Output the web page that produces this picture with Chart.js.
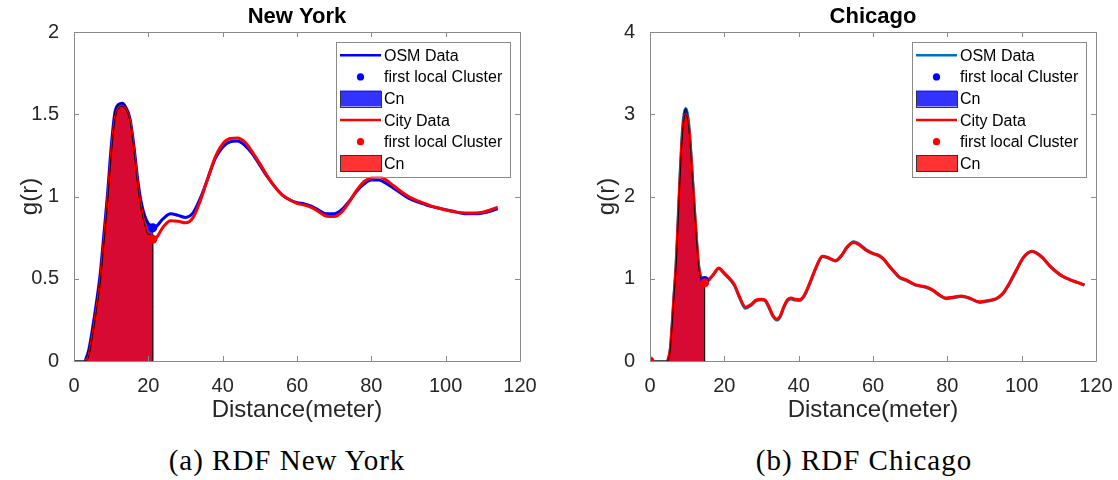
<!DOCTYPE html>
<html>
<head>
<meta charset="utf-8">
<title>RDF New York / Chicago</title>
<script src="https://cdn.jsdelivr.net/npm/chart.js@4.4.1/dist/chart.umd.min.js"></script>
<style>
  html, body { margin: 0; padding: 0; background: #fff; }
  #wrap { position: relative; width: 1118px; height: 480px; overflow: hidden; background: #fff; }
  #wrap canvas { position: absolute; top: 0; }
  #cNY { left: 0; }
  #cCH { left: 559px; }
  .cap {
    position: absolute; top: 443px; height: 34px; line-height: 34px;
    font-family: 'Liberation Serif', 'Times New Roman', serif; font-size: 29px;
    letter-spacing: 1px; color: #000; white-space: nowrap; transform: translateX(-50%);
  }
</style>
</head>
<body>
<div id="wrap">
  <canvas id="cNY" width="559" height="430"></canvas>
  <canvas id="cCH" width="559" height="430"></canvas>
  <div class="cap" style="left:287px">(a) RDF New York</div>
  <div class="cap" style="left:864px">(b) RDF Chicago</div>
</div>
<script>
// ---------- New York: radial distribution g(r) ----------
const nyR = [3, 4, 5, 6, 7, 8, 9, 10, 11, 12, 13, 14, 15, 16, 17, 18, 19, 20, 21.2, 22,
  24, 26, 28, 30, 32, 34, 36, 38, 40, 42, 44, 46, 48, 50, 52, 54, 56, 58, 60, 62,
  64, 66, 68, 70, 72, 74, 76, 78, 80, 82, 84, 86, 88, 90, 92, 94, 96, 98, 100, 102,
  104, 106, 108, 110, 112, 114];
const nyOsmG = [0, 0.07, 0.2, 0.35, 0.52, 0.76, 1.01, 1.3, 1.51, 1.56, 1.567, 1.54, 1.48, 1.33, 1.13, 0.975, 0.885, 0.835, 0.81, 0.815,
  0.865, 0.895, 0.885, 0.873, 0.9, 0.99, 1.11, 1.23, 1.3, 1.333, 1.337, 1.31, 1.26, 1.19, 1.12, 1.06, 1.01, 0.98, 0.963, 0.955,
  0.94, 0.915, 0.895, 0.895, 0.92, 0.97, 1.03, 1.075, 1.1, 1.1, 1.08, 1.05, 1.02, 0.99, 0.97, 0.955, 0.94, 0.93, 0.92, 0.91,
  0.9, 0.895, 0.895, 0.9, 0.91, 0.925];
const nyCityG = [0, 0.03, 0.15, 0.3, 0.46, 0.7, 0.95, 1.24, 1.46, 1.535, 1.547, 1.525, 1.46, 1.3, 1.09, 0.93, 0.83, 0.77, 0.74, 0.745,
  0.815, 0.853, 0.85, 0.84, 0.87, 0.975, 1.11, 1.24, 1.32, 1.352, 1.355, 1.33, 1.27, 1.2, 1.125, 1.06, 1.01, 0.98, 0.958, 0.948,
  0.932, 0.905, 0.88, 0.878, 0.905, 0.965, 1.035, 1.09, 1.115, 1.12, 1.1, 1.065, 1.03, 1, 0.978, 0.96, 0.943, 0.93, 0.918, 0.908,
  0.902, 0.9, 0.9, 0.905, 0.918, 0.935];
const nyCnEdge = 21.2;
const nyOsmClusterR = [21.2];
const nyOsmClusterG = [0.81];
const nyCityClusterR = [21.2];
const nyCityClusterG = [0.74];
const nyYTicks = [0, 0.5, 1, 1.5, 2];
const nyYTickLabels = ['0', '0.5', '1', '1.5', '2'];

// ---------- Chicago: radial distribution g(r) ----------
const chR = [4.8, 5.5, 6, 6.5, 7, 7.5, 8, 8.5, 9, 9.6, 10, 10.5, 11, 11.5, 12, 12.5, 13, 13.5, 14, 14.7,
  15.5, 16, 17, 18.5, 20, 21.5, 22.8, 24, 25.7, 27, 28.5, 30, 31, 32, 33, 34.1, 35, 36, 37, 38,
  39, 40.2, 41.5, 43, 44.5, 46.4, 48, 49.9, 51.5, 53, 54.8, 56, 58, 60, 61.8, 63, 64.4, 66, 67.1, 68.9,
  70, 71.6, 74.3, 76, 78, 79.7, 81.5, 83.8, 86, 88.7, 91, 93.2, 94.9, 96.5, 98.5, 100.5, 102.8, 104, 105.7, 107.5,
  109.3, 111, 112.9, 115, 116.9];
const chOsmG = [0, 0.16, 0.47, 0.83, 1.16, 1.65, 2.18, 2.64, 2.95, 3.07, 3.02, 2.85, 2.54, 2.18, 1.82, 1.49, 1.2, 1.05, 1.0, 0.98,
  0.985, 1.0, 1.045, 1.125, 1.06, 0.99, 0.91, 0.78, 0.64, 0.67, 0.73, 0.745, 0.73, 0.65, 0.55, 0.497, 0.535, 0.65, 0.735, 0.755,
  0.74, 0.735, 0.79, 0.94, 1.115, 1.27, 1.25, 1.215, 1.28, 1.385, 1.45, 1.43, 1.36, 1.31, 1.28, 1.235, 1.155, 1.07, 1.015, 0.98,
  0.955, 0.92, 0.895, 0.86, 0.795, 0.758, 0.77, 0.785, 0.76, 0.712, 0.728, 0.755, 0.815, 0.925, 1.095, 1.26, 1.335, 1.315, 1.255, 1.16,
  1.085, 1.03, 0.99, 0.955, 0.92];
const chCityG = [0, 0.15, 0.45, 0.8, 1.12, 1.6, 2.12, 2.58, 2.88, 3.0, 2.96, 2.8, 2.5, 2.15, 1.8, 1.47, 1.18, 1.03, 0.97, 0.95,
  0.97, 0.99, 1.05, 1.13, 1.07, 1.0, 0.92, 0.79, 0.655, 0.68, 0.74, 0.752, 0.74, 0.66, 0.56, 0.51, 0.545, 0.66, 0.745, 0.765,
  0.75, 0.745, 0.8, 0.95, 1.12, 1.275, 1.255, 1.22, 1.28, 1.38, 1.44, 1.42, 1.35, 1.305, 1.275, 1.23, 1.15, 1.07, 1.02, 0.985,
  0.96, 0.925, 0.9, 0.865, 0.8, 0.765, 0.775, 0.79, 0.765, 0.72, 0.735, 0.76, 0.82, 0.93, 1.1, 1.26, 1.33, 1.31, 1.25, 1.16,
  1.085, 1.03, 0.99, 0.955, 0.925];
const chCnEdge = 14.7;
const chOsmClusterR = [14.7];
const chOsmClusterG = [0.98];
const chCityClusterR = [0, 14.7];
const chCityClusterG = [0, 0.95];
const chYTicks = [0, 1, 2, 3, 4];
const chYTickLabels = ['0', '1', '2', '3', '4'];

// shared x axis ticks
const xTicks = [0, 20, 40, 60, 80, 100, 120];
const xTickLabels = ['0', '20', '40', '60', '80', '100', '120'];

// ---------- helpers ----------
const SANS = "'Liberation Sans', Arial, Helvetica, sans-serif";
const AXIS_GREY = '#262626';
const BOX_GREY = '#8a8a8a';

const toPoints = (rs, gs) => rs.map((r, i) => ({ x: r, y: gs[i] }));
// closed Cn region: baseline from 0, the curve up to the cluster edge, then straight down
const cnRegion = (rs, gs, edge) => [{ x: 0, y: 0 },
  ...toPoints(rs, gs).filter(p => p.x <= edge),
  { x: edge + 1e-6, y: 0 }];

// axes box with inward ticks on all four sides (drawn above the data)
const axesBox = {
  id: 'axesBox',
  afterDraw(chart) {
    const { ctx, chartArea: a, scales: { x, y } } = chart;
    const L = 5;
    ctx.save();
    ctx.strokeStyle = BOX_GREY;
    ctx.lineWidth = 1;
    ctx.beginPath();
    ctx.rect(Math.round(a.left) + 0.5, Math.round(a.top) + 0.5,
      Math.round(a.right - a.left), Math.round(a.bottom - a.top));
    x.ticks.forEach(t => {
      const px = Math.round(x.getPixelForValue(t.value)) + 0.5;
      ctx.moveTo(px, a.bottom); ctx.lineTo(px, a.bottom - L);
      ctx.moveTo(px, a.top); ctx.lineTo(px, a.top + L);
    });
    y.ticks.forEach(t => {
      const py = Math.round(y.getPixelForValue(t.value)) + 0.5;
      ctx.moveTo(a.left, py); ctx.lineTo(a.left + L, py);
      ctx.moveTo(a.right, py); ctx.lineTo(a.right - L, py);
    });
    ctx.stroke();
    ctx.restore();
  }
};

// boxed legend inside the top-right corner of the plot
const insetLegend = {
  id: 'insetLegend',
  afterDraw(chart) {
    const { ctx, chartArea: a } = chart;
    const items = chart.data.datasets;
    const w = 174, rowH = 21.6, padV = 2.5, inset = 10;
    const h = items.length * rowH + padV * 2;
    const x0 = Math.round(a.right - inset - w), y0 = Math.round(a.top + inset);
    ctx.save();
    ctx.fillStyle = '#fff';
    ctx.fillRect(x0, y0, w, h);
    ctx.strokeStyle = BOX_GREY;
    ctx.lineWidth = 1;
    ctx.strokeRect(x0 + 0.5, y0 + 0.5, w, Math.round(h));
    const sx0 = x0 + 4, sx1 = x0 + 45;
    items.forEach((ds, i) => {
      const cy = y0 + padV + rowH * (i + 0.5);
      if (ds.legendKind === 'line') {
        ctx.strokeStyle = ds.borderColor;
        ctx.lineWidth = 2.5;
        ctx.beginPath(); ctx.moveTo(sx0, cy); ctx.lineTo(sx1, cy); ctx.stroke();
      } else if (ds.legendKind === 'dot') {
        ctx.fillStyle = ds.backgroundColor;
        ctx.beginPath(); ctx.arc((sx0 + sx1) / 2, cy, 3.6, 0, Math.PI * 2); ctx.fill();
      } else {
        ctx.fillStyle = ds.backgroundColor;
        ctx.fillRect(sx0, cy - 8, sx1 - sx0, 16);
        ctx.strokeStyle = '#333';
        ctx.lineWidth = 1;
        ctx.strokeRect(sx0 + 0.5, Math.round(cy - 8) + 0.5, sx1 - sx0, 16);
      }
      ctx.fillStyle = '#000';
      ctx.font = '16px ' + SANS;
      ctx.textAlign = 'left';
      ctx.textBaseline = 'middle';
      ctx.fillText(ds.label, x0 + 48, cy + 1);
    });
    ctx.restore();
  }
};

function buildChart(canvasId, s) {
  const datasets = [
    { label: 'OSM Data', legendKind: 'line', order: 6,
      data: toPoints(s.r, s.osm), showLine: true, borderColor: s.osmLine, borderWidth: 3,
      pointRadius: 0, fill: false, cubicInterpolationMode: 'monotone' },
    { label: 'first local Cluster', legendKind: 'dot', order: 2,
      data: toPoints(s.osmClR, s.osmClG), showLine: false, backgroundColor: '#0000ff',
      pointRadius: 4.5, pointBorderWidth: 0 },
    { label: 'Cn', legendKind: 'patch', order: 5,
      data: cnRegion(s.r, s.osm, s.edge), showLine: true, fill: 'origin',
      backgroundColor: 'rgba(0,0,255,0.8)', borderColor: 'rgba(0,0,0,0.9)', borderWidth: 1,
      pointRadius: 0, cubicInterpolationMode: 'monotone' },
    { label: 'City Data', legendKind: 'line', order: 4,
      data: toPoints(s.r, s.city), showLine: true, borderColor: '#ff0000', borderWidth: 3,
      pointRadius: 0, fill: false, cubicInterpolationMode: 'monotone' },
    { label: 'first local Cluster', legendKind: 'dot', order: 1,
      data: toPoints(s.cityClR, s.cityClG), showLine: false, backgroundColor: '#ff0000',
      pointRadius: 4.5, pointBorderWidth: 0 },
    { label: 'Cn', legendKind: 'patch', order: 3,
      data: cnRegion(s.r, s.city, s.edge), showLine: true, fill: 'origin',
      backgroundColor: 'rgba(255,0,0,0.8)', borderColor: 'rgba(0,0,0,0.9)', borderWidth: 1,
      pointRadius: 0, cubicInterpolationMode: 'monotone' }
  ];

  return new Chart(document.getElementById(canvasId), {
    type: 'scatter',
    data: { datasets },
    plugins: [axesBox, insetLegend],
    options: {
      responsive: false,
      animation: false,
      events: [],
      layout: { padding: { left: 0, right: s.padRight, top: 0, bottom: 0 } },
      plugins: {
        legend: { display: false },
        tooltip: { enabled: false },
        title: {
          display: true, text: s.title, fullSize: false, color: '#000',
          font: { family: SANS, size: 22, weight: 'bold' },
          padding: { top: 3.8, bottom: 1.8 }
        }
      },
      scales: {
        x: {
          type: 'linear', min: 0, max: 120,
          afterBuildTicks: sc => { sc.ticks = xTicks.map(v => ({ value: v })); },
          afterFit: sc => { sc.height = 69; },
          ticks: { color: AXIS_GREY, font: { family: SANS, size: 20 }, padding: 5,
            maxRotation: 0, autoSkip: false, callback: (v, i) => xTickLabels[i] },
          grid: { display: false }, border: { display: false },
          title: { display: true, text: 'Distance(meter)', color: AXIS_GREY,
            font: { family: SANS, size: 24 }, padding: { top: 0, bottom: 5 } }
        },
        y: {
          type: 'linear', min: 0, max: s.yMax,
          afterBuildTicks: sc => { sc.ticks = s.yTicks.map(v => ({ value: v })); },
          afterFit: sc => { sc.width = s.yWidth; },
          ticks: { color: AXIS_GREY, font: { family: SANS, size: 20 }, padding: 7,
            autoSkip: false, callback: (v, i) => s.yTickLabels[i] },
          grid: { display: false }, border: { display: false },
          title: { display: true, text: 'g(r)', color: AXIS_GREY,
            font: { family: SANS, size: 24 }, padding: { top: s.yTitlePad, bottom: 0 } }
        }
      }
    }
  });
}

buildChart('cNY', {
  title: 'New York', r: nyR, osm: nyOsmG, city: nyCityG, edge: nyCnEdge,
  osmClR: nyOsmClusterR, osmClG: nyOsmClusterG, cityClR: nyCityClusterR, cityClG: nyCityClusterG,
  osmLine: '#0000ff', yMax: 2, yTicks: nyYTicks, yTickLabels: nyYTickLabels,
  yWidth: 74, padRight: 39, yTitlePad: 15.6
});

buildChart('cCH', {
  title: 'Chicago', r: chR, osm: chOsmG, city: chCityG, edge: chCnEdge,
  osmClR: chOsmClusterR, osmClG: chOsmClusterG, cityClR: chCityClusterR, cityClG: chCityClusterG,
  osmLine: '#0072bd', yMax: 4, yTicks: chYTicks, yTickLabels: chYTickLabels,
  yWidth: 91, padRight: 22, yTitlePad: 33.6
});
</script>
</body>
</html>
